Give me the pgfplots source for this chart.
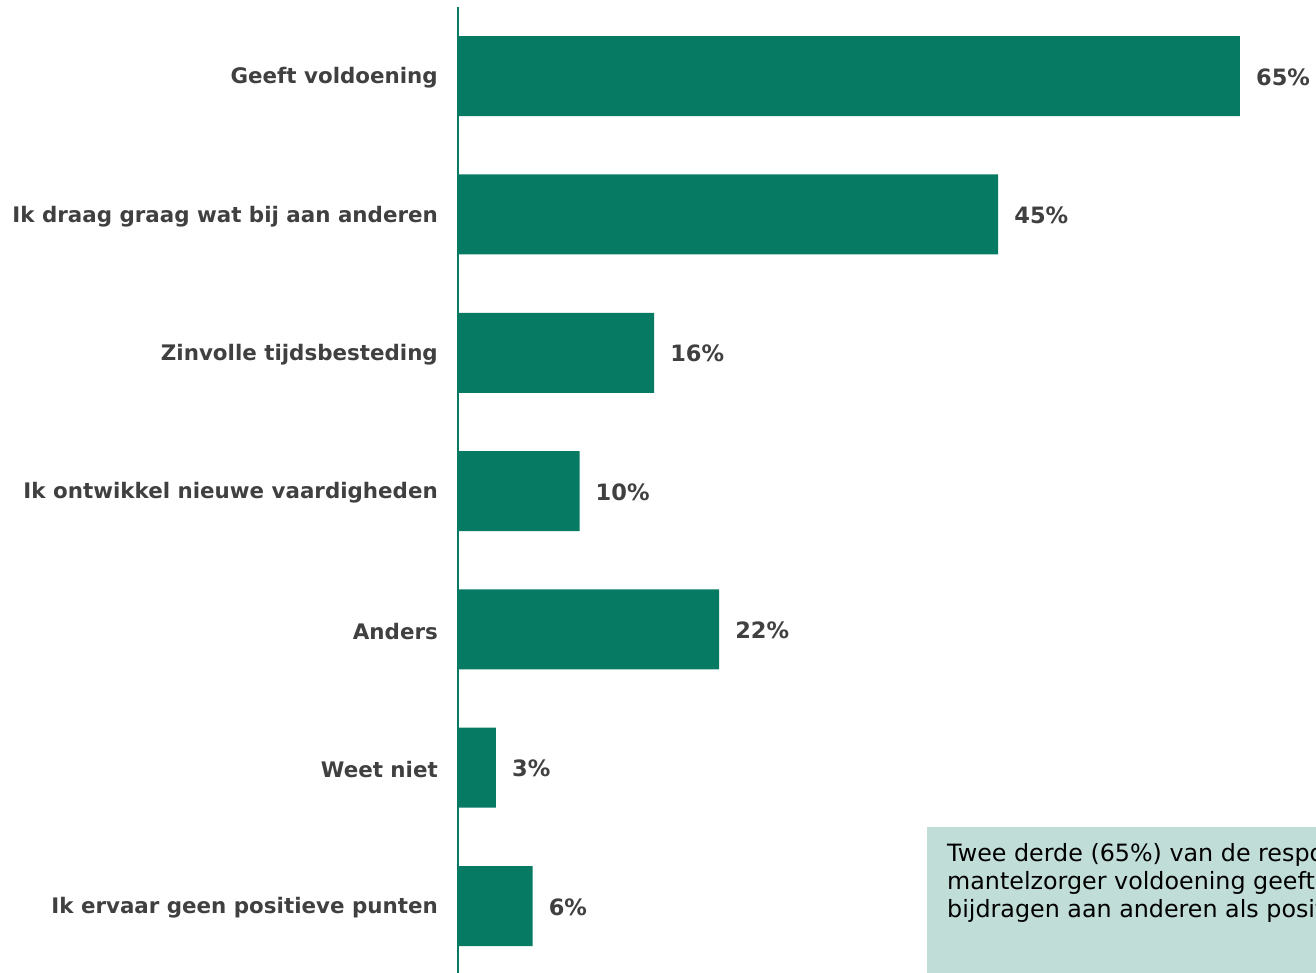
\documentclass[border=0pt]{standalone}
\usepackage{pgfplots}
\pgfplotsset{compat=1.18}
\usepackage{pgfplotstable}
\usepackage{fontspec}
\setmainfont{DejaVu Sans}
\definecolor{bargreen}{HTML}{077A63}
\definecolor{labgray}{HTML}{404040}
\definecolor{boxfill}{HTML}{C1DDD8}
\pgfplotstableread{
x y lab
6.2 0 6
3.15 1 3
21.7 2 22
10.1 3 10
16.3 4 16
44.9 5 45
65 6 65
}\datatable
\begin{document}
\begin{tikzpicture}
\useasboundingbox (0,0) rectangle (1316bp,973bp);
\clip (0,0) rectangle (1316bp,973bp);
\begin{axis}[
  at={(458bp,0bp)}, anchor=south west,
  scale only axis,
  width=858bp, height=966bp,
  xmin=0, xmax=71.32,
  ymin=-0.484, ymax=6.5,
  xbar, bar width=80bp,
  hide x axis,
  axis y line*=left,
  y axis line style={draw=bargreen, line width=1.5bp, -},
  ytick={0,1,2,3,4,5,6},
  yticklabels={Ik ervaar geen positieve punten, Weet niet, Anders, Ik ontwikkel nieuwe vaardigheden, Zinvolle tijdsbesteding, Ik draag graag wat bij aan anderen, Geeft voldoening},
  major tick length=0pt,
  ytick style={draw=none},
  yticklabel style={font=\fontsize{21.4bp}{25bp}\selectfont\bfseries, text=labgray, inner sep=0pt, xshift=-20bp, yshift=-2bp, anchor=east},
  point meta=explicit symbolic,
  nodes near coords={\pgfplotspointmeta\%},
  nodes near coords style={font=\fontsize{22.5bp}{26bp}\selectfont\bfseries, text=labgray, anchor=west, inner sep=0pt, xshift=16bp, yshift=-1bp},
  clip=false,
]
\addplot[fill=bargreen, draw=none] table[x=x, y=y, meta=lab] {\datatable};
\end{axis}
\fill[boxfill] (927bp,0bp) rectangle (1400bp,146bp);
\begin{scope}[every node/.style={anchor=base west, inner sep=0pt, font=\fontsize{23.8bp}{28bp}\selectfont, text=black}]
\node at (947bp,111bp) {Twee derde (65\%) van de respondenten geeft aan};
\node at (947bp,83bp) {mantelzorger voldoening geeft, en 45\% noemt};
\node at (947bp,55bp) {bijdragen aan anderen als positief punt.};
\end{scope}
\end{tikzpicture}
\end{document}
